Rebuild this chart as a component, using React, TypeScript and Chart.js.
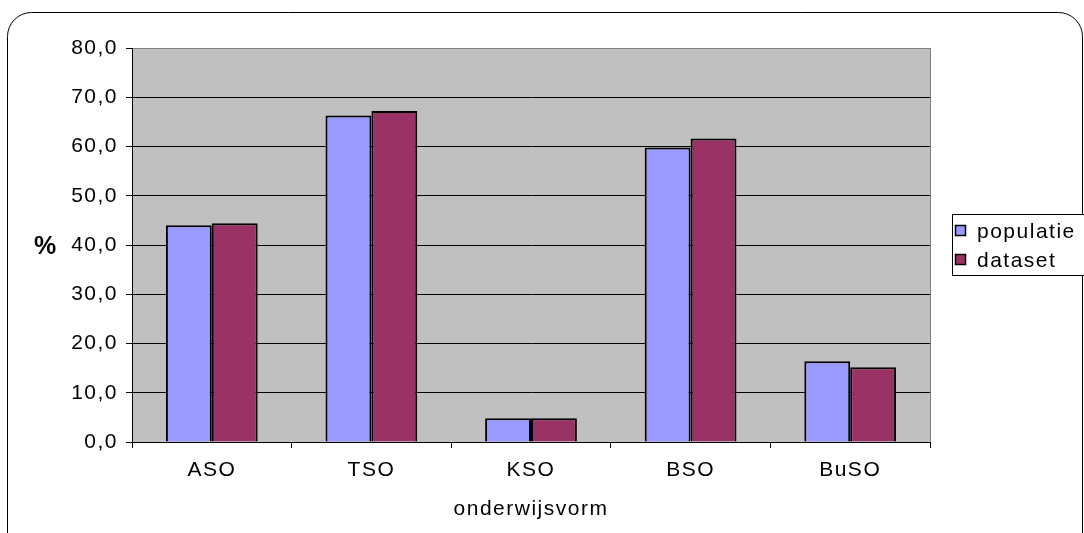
import React, { useEffect, useRef } from "react";
import { Chart, registerables } from "chart.js";

Chart.register(...registerables);

const categories = ["ASO", "TSO", "KSO", "BSO", "BuSO"];
const populatie = [44.0, 66.3, 4.8, 59.8, 16.4];
const dataset = [44.4, 67.2, 4.8, 61.6, 15.2];
const seriesNames = ["populatie", "dataset"];
const seriesColors = ["#9999FF", "#993366"];
const yTitle = "%";
const xTitle = "onderwijsvorm";

const FONT = "'Liberation Sans', Arial, sans-serif";
const SIZE = 21;
const SPACING = "1.5px";

const spacingPlugin = {
  id: "spacing",
  beforeLayout(chart: any) {
    chart.ctx.letterSpacing = SPACING;
  },
  beforeDraw(chart: any) {
    chart.ctx.letterSpacing = SPACING;
  },
};

const decorPlugin = {
  id: "decor",
  beforeDraw(chart: any) {
    const { ctx, chartArea } = chart;
    ctx.save();
    ctx.fillStyle = "#ffffff";
    ctx.fillRect(0, 0, chart.width, chart.height);
    ctx.fillStyle = "#C0C0C0";
    ctx.fillRect(chartArea.left, chartArea.top, chartArea.right - chartArea.left, chartArea.bottom - chartArea.top);
    ctx.restore();
  },
  afterDraw(chart: any) {
    const { ctx, chartArea } = chart;
    ctx.save();
    // right border of plot area
    ctx.strokeStyle = "#808080";
    ctx.lineWidth = 1;
    ctx.beginPath();
    ctx.moveTo(chartArea.right + 0.5, chartArea.top);
    ctx.lineTo(chartArea.right + 0.5, chartArea.bottom);
    ctx.stroke();
    // outer rounded frame
    ctx.strokeStyle = "#000";
    ctx.beginPath();
    (ctx as any).roundRect(7.5, 12.5, 1075, 560, 24);
    ctx.stroke();
    // y title
    ctx.letterSpacing = "0px";
    ctx.fillStyle = "#000";
    ctx.font = `bold 25px ${FONT}`;
    ctx.textAlign = "center";
    ctx.textBaseline = "middle";
    ctx.fillText(yTitle, 45, 247);
    // legend
    ctx.strokeStyle = "#000";
    ctx.fillStyle = "#fff";
    ctx.fillRect(952.5, 214.5, 140, 61);
    ctx.strokeRect(952.5, 214.5, 140, 61);
    ctx.letterSpacing = SPACING;
    ctx.font = `${SIZE}px ${FONT}`;
    ctx.textAlign = "left";
    chart.data.datasets.forEach((ds: any, i: number) => {
      const y = 231 + i * 29;
      ctx.fillStyle = ds.backgroundColor;
      ctx.fillRect(955.5, y - 5.5, 10, 10);
      ctx.lineWidth = 1.5;
      ctx.strokeRect(955.5, y - 5.5, 10, 10);
      ctx.fillStyle = "#000";
      ctx.fillText(ds.label, 977, y + 1);
    });
    ctx.restore();
  },
};

export default function App() {
  const ref = useRef<HTMLCanvasElement | null>(null);
  useEffect(() => {
    if (!ref.current) return;
    const chart = new Chart(ref.current, {
      type: "bar",
      data: {
        labels: categories,
        datasets: [
          { label: seriesNames[0], data: populatie, backgroundColor: seriesColors[0], borderColor: "#000", borderWidth: 2 },
          { label: seriesNames[1], data: dataset, backgroundColor: seriesColors[1], borderColor: "#000", borderWidth: 2 },
        ],
      },
      options: {
        animation: false,
        responsive: true,
        maintainAspectRatio: false,
        devicePixelRatio: 1,
        layout: { padding: { top: 48, right: 154, bottom: 0, left: 0 } },
        datasets: { bar: { categoryPercentage: 0.575, barPercentage: 1 } },
        plugins: { legend: { display: false }, tooltip: { enabled: false } },
        scales: {
          x: {
            offset: true,
            grid: { offset: true, drawOnChartArea: false, drawTicks: true, tickLength: 6, color: "#000" },
            border: { color: "#000", width: 1 },
            ticks: { color: "#000", font: { family: FONT, size: SIZE }, padding: 10 },
            title: { display: true, text: xTitle, color: "#000", font: { family: FONT, size: SIZE }, padding: { top: 0, bottom: 11 } },
            afterFit(scale: any) {
              scale.height = 91;
            },
          },
          y: {
            min: 0,
            max: 80,
            ticks: {
              stepSize: 10,
              color: "#000",
              font: { family: FONT, size: SIZE },
              padding: 8,
              callback: (v: any) => Number(v).toFixed(1).replace(".", ","),
            },
            grid: {
              color: (c: any) => (c.tick && c.tick.value === 80 ? "#808080" : "#000"),
              tickColor: "#000",
              tickLength: 6,
            },
            border: { color: "#000", width: 1 },
            afterFit(scale: any) {
              scale.width = 132;
            },
          },
        },
      },
      plugins: [spacingPlugin, decorPlugin],
    });
    return () => chart.destroy();
  }, []);
  return (
    <div style={{ position: "fixed", left: 0, top: 0, width: 1084, height: 533 }}>
      <canvas ref={ref} />
    </div>
  );
}
